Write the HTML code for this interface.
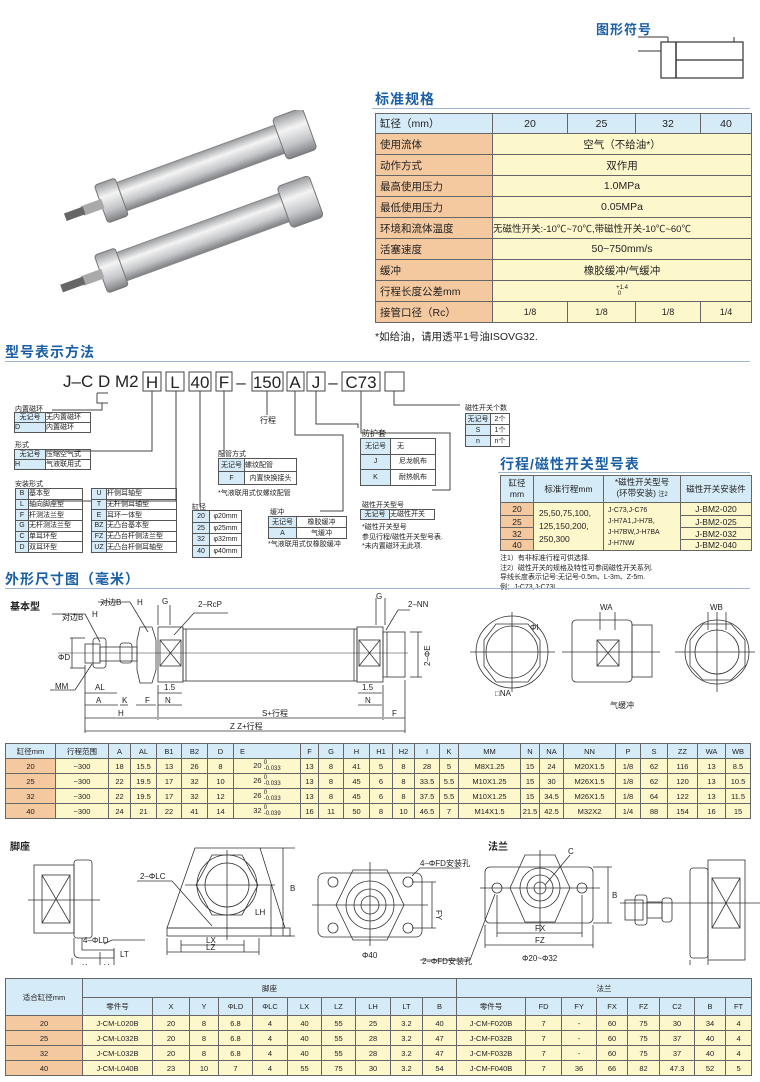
<!DOCTYPE html>
<html><head><meta charset="utf-8">
<style>
*{margin:0;padding:0;box-sizing:border-box}
body{width:760px;height:1082px;background:#fff;position:relative;overflow:hidden;font-family:"Liberation Sans","Noto Sans CJK SC",sans-serif;color:#222}
.a{position:absolute}
.ttl{position:absolute;font-weight:bold;color:#1b5fa6;font-size:14px;letter-spacing:1px}
.hl{position:absolute;height:1px;background:#9db7d3}
table{border-collapse:collapse;table-layout:fixed;position:absolute}
td{border:1px solid #666;text-align:center;vertical-align:middle;overflow:hidden;white-space:nowrap;padding:0}
.hb td{background:#d6ebf8}
.sa{background:#f5c9a0}
.y{background:#fdf8cc}
.hd{background:#d6ebf8}
.st td{font-size:10.5px}
.sm td{font-size:7px;border-color:#555;line-height:1}
.dt td{font-size:7.5px}
.bt td{font-size:7.5px}
.t7{font-size:7px;position:absolute;white-space:nowrap}
.fr{display:inline-block;vertical-align:middle;font-size:6px;line-height:6px;text-align:left}
</style></head><body>

<!-- symbol -->
<div class="ttl" style="left:596px;top:19px;font-size:13px">图形符号</div>
<svg class="a" style="left:636px;top:32px" width="115" height="56">
<rect x="25" y="10" width="82" height="36" fill="none" stroke="#333" stroke-width="1.2"/>
<line x1="40" y1="10" x2="40" y2="46" stroke="#333" stroke-width="1.5"/>
<line x1="40" y1="28" x2="107" y2="28" stroke="#333" stroke-width="1.2"/>
<line x1="2" y1="19" x2="25" y2="19" stroke="#333"/><line x1="32" y1="5" x2="32" y2="10" stroke="#333"/>
<line x1="98" y1="5" x2="98" y2="10" stroke="#333"/><line x1="2" y1="5" x2="32" y2="5" stroke="#333"/>
</svg>

<!-- photo -->
<svg class="a" style="left:35px;top:110px" width="320" height="205">
<defs><linearGradient id="g1" x1="0" y1="0" x2="0" y2="1"><stop offset="0" stop-color="#9a9c9f"/><stop offset=".35" stop-color="#f4f4f4"/><stop offset=".7" stop-color="#c4c6c9"/><stop offset="1" stop-color="#7d7f82"/></linearGradient></defs>
<g transform="rotate(-20 160 60)">
<rect x="70" y="45" width="200" height="30" rx="4" fill="url(#g1)" stroke="#888"/>
<rect x="250" y="38" width="32" height="44" rx="4" fill="url(#g1)" stroke="#777"/>
<rect x="60" y="40" width="22" height="40" rx="3" fill="url(#g1)" stroke="#777"/>
<rect x="40" y="55" width="22" height="10" fill="#aaa"/>
<rect x="22" y="56" width="20" height="8" fill="#666"/>
</g>
<g transform="rotate(-20 160 130) translate(0,70)">
<rect x="70" y="45" width="200" height="30" rx="4" fill="url(#g1)" stroke="#888"/>
<rect x="255" y="38" width="34" height="44" rx="4" fill="url(#g1)" stroke="#777"/>
<rect x="60" y="40" width="22" height="40" rx="3" fill="url(#g1)" stroke="#777"/>
<rect x="40" y="55" width="22" height="10" fill="#aaa"/>
<rect x="18" y="56" width="24" height="8" fill="#666"/>
</g>
</svg>

<!-- spec -->
<div class="ttl" style="left:375px;top:89px">标准规格</div>
<div class="hl" style="left:372px;top:108px;width:378px"></div>
<table class="st" style="left:375px;top:113px;width:376px">
<colgroup><col style="width:117px"><col style="width:75px"><col style="width:68px"><col style="width:65px"><col style="width:51px"></colgroup>
<tr class="hb" style="height:20px"><td style="text-align:left;padding-left:4px">缸径（mm）</td><td>20</td><td>25</td><td>32</td><td>40</td></tr>
<tr style="height:21px"><td class="sa" style="text-align:left;padding-left:4px">使用流体</td><td class="y" colspan="4">空气（不给油*）</td></tr>
<tr style="height:21px"><td class="sa" style="text-align:left;padding-left:4px">动作方式</td><td class="y" colspan="4">双作用</td></tr>
<tr style="height:21px"><td class="sa" style="text-align:left;padding-left:4px">最高使用压力</td><td class="y" colspan="4">1.0MPa</td></tr>
<tr style="height:21px"><td class="sa" style="text-align:left;padding-left:4px">最低使用压力</td><td class="y" colspan="4">0.05MPa</td></tr>
<tr style="height:21px"><td class="sa" style="text-align:left;padding-left:4px">环境和流体温度</td><td class="y" colspan="4" style="font-size:9.5px;text-align:left">无磁性开关:-10℃~70℃,带磁性开关-10℃~60℃</td></tr>
<tr style="height:21px"><td class="sa" style="text-align:left;padding-left:4px">活塞速度</td><td class="y" colspan="4">50~750mm/s</td></tr>
<tr style="height:21px"><td class="sa" style="text-align:left;padding-left:4px">缓冲</td><td class="y" colspan="4">橡胶缓冲/气缓冲</td></tr>
<tr style="height:21px"><td class="sa" style="text-align:left;padding-left:4px">行程长度公差mm</td><td class="y" colspan="4"><span class="fr">+1.4<br>&nbsp;0</span></td></tr>
<tr style="height:21px"><td class="sa" style="text-align:left;padding-left:4px">接管口径（Rc）</td><td class="y" style="font-size:9px">1/8</td><td class="y" style="font-size:9px">1/8</td><td class="y" style="font-size:9px">1/8</td><td class="y" style="font-size:9px">1/4</td></tr>
</table>
<div class="a" style="left:375px;top:329px;font-size:10.5px">*如给油，请用透平1号油ISOVG32.</div>

<!-- model code -->
<div class="ttl" style="left:5px;top:342px">型号表示方法</div>
<div class="hl" style="left:5px;top:361px;width:745px"></div>
<div class="a" style="left:63px;top:372px;font-size:17px;line-height:19px">J–C D M2</div>
<svg class="a" style="left:0;top:360px" width="520" height="200" fill="none" stroke="#444" stroke-width="1">
<rect x="143" y="12" width="18" height="19"/><rect x="166" y="12" width="18" height="19"/><rect x="189" y="12" width="22" height="19"/>
<rect x="216" y="12" width="16" height="19"/><rect x="252" y="12" width="31" height="19"/><rect x="287" y="12" width="17" height="19"/>
<rect x="307" y="12" width="18" height="19"/><rect x="342" y="12" width="38" height="19"/><rect x="385" y="12" width="19" height="19"/>
<g fill="#222" stroke="none" font-family="Liberation Sans" font-size="17" text-anchor="middle">
<text x="152" y="28">H</text><text x="175" y="28">L</text><text x="200" y="28">40</text><text x="224" y="28">F</text><text x="241" y="28">–</text>
<text x="267" y="28">150</text><text x="295" y="28">A</text><text x="316" y="28">J</text><text x="333" y="28">–</text><text x="361" y="28">C73</text>
</g>
<polyline points="97,33 97,43 108,43"/><line x1="108" y1="33" x2="97" y2="33"/>
<polyline points="102,43 102,50 52,50"/>
<polyline points="152,31 152,91 40,91"/>
<polyline points="176,31 176,141 52,141"/>
<polyline points="200,31 200,146"/>
<polyline points="224,31 224,96"/>
<polyline points="267,31 267,55"/>
<polyline points="295,31 295,75 343,75 343,151 320,151"/>
<polyline points="316,31 316,64 358,64 358,68"/>
<polyline points="361,31 361,73 450,73 450,130 432,130"/>
<polyline points="394,31 394,45 460,45"/>
</svg>
<div class="t7" style="left:260px;top:415px;font-size:8px">行程</div>
<div class="t7" style="left:15px;top:404px">内置磁环</div>
<table class="sm" style="left:14px;top:412px;width:77px"><colgroup><col style="width:31px"><col></colgroup>
<tr style="height:10px"><td class="hd">无记号</td><td style="text-align:left">无内置磁环</td></tr><tr style="height:10px"><td class="hd" style="text-align:left">D</td><td style="text-align:left">内置磁环</td></tr></table>
<div class="t7" style="left:15px;top:440px">形式</div>
<table class="sm" style="left:14px;top:449px;width:77px"><colgroup><col style="width:31px"><col></colgroup>
<tr style="height:10px"><td class="hd">无记号</td><td style="text-align:left">压缩空气式</td></tr><tr style="height:10px"><td class="hd" style="text-align:left">H</td><td style="text-align:left">气液联用式</td></tr></table>
<div class="t7" style="left:15px;top:479px">安装形式</div>
<table class="sm" style="left:15px;top:488px;width:68px"><colgroup><col style="width:13px"><col></colgroup>
<tr style="height:10.7px"><td class="hd">B</td><td style="text-align:left">基本型</td></tr><tr style="height:10.7px"><td class="hd">L</td><td style="text-align:left">轴向脚座型</td></tr><tr style="height:10.7px"><td class="hd">F</td><td style="text-align:left">杆测法兰型</td></tr><tr style="height:10.7px"><td class="hd">G</td><td style="text-align:left">无杆测法兰型</td></tr><tr style="height:10.7px"><td class="hd">C</td><td style="text-align:left">单耳环型</td></tr><tr style="height:10.7px"><td class="hd">D</td><td style="text-align:left">双耳环型</td></tr></table>
<table class="sm" style="left:91px;top:488px;width:86px"><colgroup><col style="width:15px"><col></colgroup>
<tr style="height:10.7px"><td class="hd">U</td><td style="text-align:left">杆侧耳轴型</td></tr><tr style="height:10.7px"><td class="hd">T</td><td style="text-align:left">无杆侧耳轴型</td></tr><tr style="height:10.7px"><td class="hd">E</td><td style="text-align:left">耳环一体型</td></tr><tr style="height:10.7px"><td class="hd">BZ</td><td style="text-align:left">无凸台基本型</td></tr><tr style="height:10.7px"><td class="hd">FZ</td><td style="text-align:left">无凸台杆侧法兰型</td></tr><tr style="height:10.7px"><td class="hd">UZ</td><td style="text-align:left">无凸台杆侧耳轴型</td></tr></table>
<div class="t7" style="left:218px;top:449px">配管方式</div>
<table class="sm" style="left:218px;top:458px;width:79px"><colgroup><col style="width:26px"><col></colgroup>
<tr style="height:13px"><td class="hd">无记号</td><td style="text-align:left">螺纹配管</td></tr><tr style="height:13px"><td class="hd">F</td><td>内置快换接头</td></tr></table>
<div class="t7" style="left:218px;top:488px">*气液联用式仅螺纹配管</div>
<div class="t7" style="left:192px;top:502px">缸径</div>
<table class="sm" style="left:192px;top:510px;width:50px"><colgroup><col style="width:17px"><col></colgroup>
<tr style="height:11.7px"><td class="hd">20</td><td>φ20mm</td></tr><tr style="height:11.7px"><td class="hd">25</td><td>φ25mm</td></tr><tr style="height:11.7px"><td class="hd">32</td><td>φ32mm</td></tr><tr style="height:11.7px"><td class="hd">40</td><td>φ40mm</td></tr></table>
<div class="t7" style="left:270px;top:507px">缓冲</div>
<table class="sm" style="left:268px;top:516px;width:79px"><colgroup><col style="width:28px"><col></colgroup>
<tr style="height:11px"><td class="hd">无记号</td><td>橡胶缓冲</td></tr><tr style="height:11px"><td class="hd">A</td><td>气缓冲</td></tr></table>
<div class="t7" style="left:268px;top:539px">*气液联用式仅橡胶缓冲</div>
<div class="t7" style="left:362px;top:428px;font-size:8px">防护套</div>
<table class="sm" style="left:360px;top:438px;width:76px"><colgroup><col style="width:30px"><col></colgroup>
<tr style="height:15.6px"><td class="hd">无记号</td><td style="text-align:left;padding-left:6px">无</td></tr><tr style="height:15.6px"><td class="hd">J</td><td>尼龙帆布</td></tr><tr style="height:15.6px"><td class="hd">K</td><td>耐热帆布</td></tr></table>
<div class="t7" style="left:362px;top:500px">磁性开关型号</div>
<table class="sm" style="left:360px;top:509px;width:75px"><colgroup><col style="width:29px"><col></colgroup>
<tr style="height:10px"><td class="hd">无记号</td><td style="text-align:left">无磁性开关</td></tr></table>
<div class="t7" style="left:362px;top:523px;line-height:9.5px">*磁性开关型号<br>参见行程/磁性开关型号表.<br>*未内置磁环无此项.</div>
<div class="t7" style="left:465px;top:403px">磁性开关个数</div>
<table class="sm" style="left:465px;top:413px;width:45px"><colgroup><col style="width:25px"><col></colgroup>
<tr style="height:11px"><td class="hd">无记号</td><td>2个</td></tr><tr style="height:11px"><td class="hd">S</td><td>1个</td></tr><tr style="height:11px"><td class="hd">n</td><td>n个</td></tr></table>

<!-- switch table -->
<div class="ttl" style="left:500px;top:454px">行程/磁性开关型号表</div>
<div class="hl" style="left:498px;top:472px;width:252px"></div>
<table style="left:500px;top:475px;width:252px;font-size:8.5px">
<colgroup><col style="width:33px"><col style="width:70px"><col style="width:77px"><col></colgroup>
<tr style="height:27px" class="hb"><td style="line-height:11px">缸径<br>mm</td><td>标准行程mm</td><td style="line-height:11px">*磁性开关型号<br>(环带安装) <span style="font-size:6px">注2</span></td><td>磁性开关安装件</td></tr>
<tr style="height:13px"><td class="sa">20</td><td class="y" rowspan="4" style="text-align:left;padding-left:5px;line-height:13px">25,50,75,100,<br>125,150,200,<br>250,300</td><td class="y" rowspan="4" style="font-size:7px;text-align:left;padding-left:4px;line-height:11px">J-C73,J-C76<br>J-H7A1,J-H7B,<br>J-H7BW,J-H7BA<br>J-H7NW</td><td class="y">J-BM2-020</td></tr>
<tr style="height:12px"><td class="sa">25</td><td class="y">J-BM2-025</td></tr>
<tr style="height:12px"><td class="sa">32</td><td class="y">J-BM2-032</td></tr>
<tr style="height:11px"><td class="sa">40</td><td class="y">J-BM2-040</td></tr>
</table>
<div class="t7" style="left:500px;top:554px;line-height:9.5px">注1）有非标准行程可供选择.<br>注2）磁性开关的规格及特性可参阅磁性开关系列.<br>导线长度表示记号:无记号-0.5m、L-3m、Z-5m.<br>例：J-C73,J-C73L.</div>

<!-- dimensions -->
<div class="ttl" style="left:5px;top:569px">外形尺寸图（毫米）</div>
<div class="hl" style="left:5px;top:588px;width:745px"></div>
<div class="a" style="left:10px;top:598px;font-size:10px;font-weight:bold">基本型</div>
<svg class="a" style="left:0;top:590px" width="760" height="150" font-family="Liberation Sans" font-size="8" fill="#222">
<g fill="none" stroke="#333" stroke-width=".8">
<line x1="58" y1="63" x2="408" y2="63" stroke-width=".5"/>
<rect x="85" y="54" width="15" height="19"/><rect x="93" y="48" width="13" height="30" rx="3"/>
<rect x="100" y="57" width="37" height="14"/><rect x="120" y="53" width="12" height="20" rx="3"/>
<polygon points="140,37 152,37 156,50 156,80 152,93 140,93 137,80 137,50"/>
<rect x="158" y="37" width="25" height="55"/><line x1="160" y1="50" x2="181" y2="76"/><line x1="181" y1="50" x2="160" y2="76"/><rect x="160" y="50" width="21" height="26"/>
<rect x="183" y="39" width="174" height="52"/><line x1="186" y1="39" x2="186" y2="91"/><line x1="354" y1="39" x2="354" y2="91"/>
<rect x="357" y="37" width="26" height="55"/><rect x="359" y="50" width="21" height="26"/><line x1="359" y1="50" x2="380" y2="76"/><line x1="380" y1="50" x2="359" y2="76"/>
<rect x="383" y="42" width="22" height="45"/><line x1="387" y1="42" x2="387" y2="87"/>
<line x1="85" y1="75" x2="85" y2="143"/><line x1="158" y1="95" x2="158" y2="130"/><line x1="383" y1="95" x2="383" y2="130"/><line x1="405" y1="90" x2="405" y2="143"/>
<line x1="85" y1="103" x2="117" y2="103"/><line x1="85" y1="115" x2="118" y2="115"/><line x1="120" y1="115" x2="128" y2="115"/><line x1="136" y1="115" x2="156" y2="115"/><line x1="158" y1="115" x2="182" y2="115"/>
<line x1="85" y1="128" x2="157" y2="128"/><line x1="159" y1="128" x2="382" y2="128"/><line x1="384" y1="128" x2="405" y2="128"/>
<line x1="85" y1="141" x2="405" y2="141"/><line x1="358" y1="115" x2="382" y2="115"/><line x1="358" y1="103" x2="382" y2="103"/><line x1="158" y1="103" x2="182" y2="103"/>
<line x1="70" y1="48" x2="85" y2="48"/><line x1="70" y1="78" x2="85" y2="78"/><line x1="72" y1="48" x2="72" y2="78"/>
<line x1="410" y1="42" x2="422" y2="42"/><line x1="410" y1="87" x2="422" y2="87"/><line x1="418" y1="42" x2="418" y2="87"/>
<line x1="50" y1="100" x2="75" y2="100"/><line x1="75" y1="100" x2="92" y2="74"/>
<polyline points="52,24 85,24 100,52"/><polyline points="98,12 130,12 148,42"/><polyline points="174,45 194,23 228,23"/><polyline points="386,40 398,20 410,20"/>
<line x1="158" y1="15" x2="158" y2="35"/><line x1="170" y1="15" x2="170" y2="35"/><line x1="376" y1="8" x2="376" y2="35"/><line x1="385" y1="8" x2="385" y2="35"/>
<circle cx="512" cy="62" r="36"/><circle cx="512" cy="62" r="26"/><polygon points="496,34 528,34 540,50 540,76 528,92 496,92 484,76 484,50"/>
<line x1="470" y1="62" x2="555" y2="62"/><line x1="512" y1="22" x2="512" y2="102"/>
<rect x="572" y="30" width="60" height="62" rx="4"/><rect x="597" y="50" width="22" height="26"/><line x1="597" y1="50" x2="619" y2="76"/><line x1="619" y1="50" x2="597" y2="76"/>
<rect x="632" y="35" width="20" height="52"/><line x1="562" y1="62" x2="660" y2="62"/>
<circle cx="717" cy="62" r="32"/><circle cx="717" cy="62" r="22"/><polygon points="703,34 731,34 745,50 745,76 731,90 703,90 690,76 690,50"/>
<line x1="675" y1="62" x2="755" y2="62"/><line x1="717" y1="22" x2="717" y2="102"/>
<line x1="600" y1="22" x2="600" y2="40"/><line x1="615" y1="22" x2="615" y2="40"/><line x1="708" y1="22" x2="708" y2="40"/><line x1="726" y1="22" x2="726" y2="40"/>
</g>
<text x="58" y="70">ΦD</text><text x="55" y="99">MM</text><text x="95" y="100">AL</text><text x="96" y="113">A</text><text x="122" y="113">K</text><text x="145" y="113">F</text><text x="165" y="113">N</text><text x="164" y="100">1.5</text>
<text x="118" y="126">H</text><text x="262" y="126">S+行程</text><text x="392" y="126">F</text><text x="365" y="113">N</text><text x="362" y="100">1.5</text><text x="230" y="139">Z Z+行程</text>
<text x="62" y="30">对边B</text><text x="92" y="27">H</text><text x="100" y="15">对边B</text><text x="137" y="15">H</text><text x="162" y="14">G</text><text x="198" y="17">2–RcP</text><text x="376" y="9">G</text><text x="408" y="17">2–NN</text>
<text x="430" y="76" transform="rotate(-90 430 76)">2–ΦE</text>
<text x="530" y="40">ΦI</text><text x="495" y="106">□NA</text><text x="600" y="20">WA</text><text x="710" y="20">WB</text><text x="610" y="118">气缓冲</text>
</svg>

<table class="dt" style="left:5px;top:743px;width:746px">
<colgroup><col style="width:50px"><col style="width:53px"><col style="width:22px"><col style="width:26px"><col style="width:25px"><col style="width:26px"><col style="width:26px"><col style="width:67px"><col style="width:18px"><col style="width:25px"><col style="width:26px"><col style="width:23px"><col style="width:22px"><col style="width:25px"><col style="width:19px"><col style="width:62px"><col style="width:19px"><col style="width:24px"><col style="width:52px"><col style="width:25px"><col style="width:27px"><col style="width:30px"><col style="width:28px"><col></colgroup>
<tr class="hb" style="height:15px"><td>缸径mm</td><td>行程范围</td><td>A</td><td>AL</td><td>B1</td><td>B2</td><td>D</td><td style="text-align:left;padding-left:6px">E</td><td>F</td><td>G</td><td>H</td><td>H1</td><td>H2</td><td>I</td><td>K</td><td>MM</td><td>N</td><td>NA</td><td>NN</td><td>P</td><td>S</td><td>ZZ</td><td>WA</td><td>WB</td></tr>
<tr class="y" style="height:15px"><td class="sa">20</td><td>~300</td><td>18</td><td>15.5</td><td>13</td><td>26</td><td>8</td><td>20 <span class="fr">0<br>-0.033</span></td><td>13</td><td>8</td><td>41</td><td>5</td><td>8</td><td>28</td><td>5</td><td>M8X1.25</td><td>15</td><td>24</td><td>M20X1.5</td><td>1/8</td><td>62</td><td>116</td><td>13</td><td>8.5</td></tr>
<tr class="y" style="height:15px"><td class="sa">25</td><td>~300</td><td>22</td><td>19.5</td><td>17</td><td>32</td><td>10</td><td>26 <span class="fr">0<br>-0.033</span></td><td>13</td><td>8</td><td>45</td><td>6</td><td>8</td><td>33.5</td><td>5.5</td><td>M10X1.25</td><td>15</td><td>30</td><td>M26X1.5</td><td>1/8</td><td>62</td><td>120</td><td>13</td><td>10.5</td></tr>
<tr class="y" style="height:15px"><td class="sa">32</td><td>~300</td><td>22</td><td>19.5</td><td>17</td><td>32</td><td>12</td><td>26 <span class="fr">0<br>-0.033</span></td><td>13</td><td>8</td><td>45</td><td>6</td><td>8</td><td>37.5</td><td>5.5</td><td>M10X1.25</td><td>15</td><td>34.5</td><td>M26X1.5</td><td>1/8</td><td>64</td><td>122</td><td>13</td><td>11.5</td></tr>
<tr class="y" style="height:15px"><td class="sa">40</td><td>~300</td><td>24</td><td>21</td><td>22</td><td>41</td><td>14</td><td>32 <span class="fr">0<br>-0.039</span></td><td>16</td><td>11</td><td>50</td><td>8</td><td>10</td><td>46.5</td><td>7</td><td>M14X1.5</td><td>21.5</td><td>42.5</td><td>M32X2</td><td>1/4</td><td>88</td><td>154</td><td>16</td><td>15</td></tr>
</table>

<!-- bottom drawings -->
<div class="a" style="left:10px;top:838px;font-size:10px;font-weight:bold">脚座</div>
<div class="a" style="left:488px;top:838px;font-size:10px;font-weight:bold">法兰</div>
<svg class="a" style="left:0;top:840px" width="760" height="125" font-family="Liberation Sans" font-size="8" fill="#222">
<g fill="none" stroke="#333" stroke-width=".8">
<rect x="34" y="25" width="40" height="68"/><rect x="42" y="35" width="28" height="48"/><line x1="42" y1="35" x2="70" y2="83"/><line x1="70" y1="35" x2="42" y2="83"/>
<rect x="74" y="20" width="18" height="78" rx="3"/><path d="M74 98 L74 112 Q74 118 80 118 L114 118 L114 110 L82 110 L82 98"/>
<line x1="28" y1="60" x2="100" y2="60"/><line x1="72" y1="134" x2="120" y2="134"/><line x1="72" y1="118" x2="72" y2="138"/><line x1="100" y1="112" x2="100" y2="138"/><line x1="114" y1="108" x2="114" y2="138"/>
<polyline points="104,104 112,100 145,100"/>
<polygon points="195,8 260,8 285,88 167,88"/><rect x="167" y="88" width="123" height="8"/>
<circle cx="227" cy="45" r="30"/><circle cx="227" cy="45" r="22"/><polygon points="212,15 242,15 258,45 242,75 212,75 196,45"/>
<line x1="185" y1="45" x2="275" y2="45"/><line x1="227" y1="10" x2="227" y2="100"/>
<line x1="260" y1="8" x2="295" y2="8"/><line x1="285" y1="96" x2="295" y2="96"/><line x1="283" y1="8" x2="283" y2="96"/><line x1="271" y1="45" x2="271" y2="96"/>
<line x1="181" y1="100" x2="181" y2="112"/><line x1="244" y1="100" x2="244" y2="112"/><line x1="181" y1="105" x2="244" y2="105"/><line x1="167" y1="98" x2="167" y2="115"/><line x1="259" y1="98" x2="259" y2="115"/><line x1="167" y1="112" x2="259" y2="112"/>
<polyline points="137,41 172,41 212,86"/>
<rect x="318" y="33" width="104" height="64" rx="6"/><polygon points="353,30 387,30 404,65 387,100 353,100 336,65"/><circle cx="370" cy="65" r="24"/><circle cx="370" cy="65" r="16"/><circle cx="370" cy="65" r="9"/>
<circle cx="333" cy="42" r="5"/><circle cx="408" cy="42" r="5"/><circle cx="333" cy="88" r="5"/><circle cx="408" cy="88" r="5"/>
<line x1="312" y1="65" x2="428" y2="65"/><line x1="370" y1="22" x2="370" y2="106"/><line x1="412" y1="42" x2="436" y2="42"/><line x1="412" y1="88" x2="436" y2="88"/><line x1="432" y1="42" x2="432" y2="88"/>
<polyline points="412,36 420,28 460,28"/>
<rect x="485" y="27" width="108" height="56" rx="5"/><polygon points="525,15 555,15 570,48 555,82 525,82 510,48"/><circle cx="540" cy="48" r="20"/><circle cx="540" cy="48" r="13"/><circle cx="540" cy="48" r="6"/>
<circle cx="497" cy="48" r="5"/><circle cx="582" cy="48" r="5"/><line x1="480" y1="48" x2="600" y2="48"/><line x1="540" y1="10" x2="540" y2="92"/>
<line x1="593" y1="27" x2="612" y2="27"/><line x1="593" y1="83" x2="612" y2="83"/><line x1="608" y1="27" x2="608" y2="83"/>
<line x1="497" y1="93" x2="582" y2="93"/><line x1="485" y1="105" x2="593" y2="105"/><line x1="497" y1="55" x2="497" y2="97"/><line x1="582" y1="55" x2="582" y2="97"/><line x1="485" y1="85" x2="485" y2="108"/><line x1="593" y1="85" x2="593" y2="108"/>
<polyline points="420,120 470,120 495,54"/><polyline points="545,45 570,15"/>
<rect x="625" y="60" width="18" height="20"/><rect x="635" y="55" width="12" height="30" rx="3"/><rect x="647" y="62" width="15" height="16"/><rect x="662" y="58" width="10" height="24" rx="3"/>
<rect x="690" y="28" width="18" height="90" rx="3"/><rect x="708" y="20" width="37" height="100"/><rect x="712" y="38" width="28" height="50"/><line x1="712" y1="38" x2="740" y2="88"/><line x1="740" y1="38" x2="712" y2="88"/>
<line x1="620" y1="63" x2="760" y2="63"/><line x1="690" y1="120" x2="690" y2="138"/><line x1="708" y1="120" x2="708" y2="138"/><line x1="680" y1="132" x2="720" y2="132"/>
</g>
<text x="83" y="103">4–ΦLD</text><text x="120" y="117">LT</text><text x="82" y="130">X</text><text x="104" y="130">Y</text>
<text x="140" y="39">2–ΦLC</text><text x="290" y="51">B</text><text x="255" y="75">LH</text><text x="206" y="103">LX</text><text x="206" y="110">LZ</text>
<text x="420" y="26">4–ΦFD安装孔</text><text x="436" y="70" transform="rotate(90 436 70)">FY</text><text x="362" y="118">Φ40</text>
<text x="422" y="124">2–ΦFD安装孔</text><text x="568" y="14">C</text><text x="612" y="58">B</text><text x="535" y="91">FX</text><text x="535" y="103">FZ</text><text x="522" y="121">Φ20~Φ32</text><text x="713" y="133">FT</text>
</svg>

<table class="bt" style="left:5px;top:978px;width:747px">
<colgroup><col style="width:77px"><col style="width:70px"><col style="width:37px"><col style="width:29px"><col style="width:34px"><col style="width:35px"><col style="width:34px"><col style="width:34px"><col style="width:35px"><col style="width:32px"><col style="width:34px"><col style="width:69px"><col style="width:36px"><col style="width:35px"><col style="width:31px"><col style="width:32px"><col style="width:35px"><col style="width:31px"><col></colgroup>
<tr class="hb" style="height:19px"><td rowspan="2">适合缸径mm</td><td colspan="10">脚座</td><td colspan="8">法兰</td></tr>
<tr class="hb" style="height:18px"><td>零件号</td><td>X</td><td>Y</td><td>ΦLD</td><td>ΦLC</td><td>LX</td><td>LZ</td><td>LH</td><td>LT</td><td>B</td><td>零件号</td><td>FD</td><td>FY</td><td>FX</td><td>FZ</td><td>C2</td><td>B</td><td>FT</td></tr>
<tr class="y" style="height:15px"><td class="sa">20</td><td>J-CM-L020B</td><td>20</td><td>8</td><td>6.8</td><td>4</td><td>40</td><td>55</td><td>25</td><td>3.2</td><td>40</td><td>J-CM-F020B</td><td>7</td><td>-</td><td>60</td><td>75</td><td>30</td><td>34</td><td>4</td></tr>
<tr class="y" style="height:15px"><td class="sa">25</td><td>J-CM-L032B</td><td>20</td><td>8</td><td>6.8</td><td>4</td><td>40</td><td>55</td><td>28</td><td>3.2</td><td>47</td><td>J-CM-F032B</td><td>7</td><td>-</td><td>60</td><td>75</td><td>37</td><td>40</td><td>4</td></tr>
<tr class="y" style="height:15px"><td class="sa">32</td><td>J-CM-L032B</td><td>20</td><td>8</td><td>6.8</td><td>4</td><td>40</td><td>55</td><td>28</td><td>3.2</td><td>47</td><td>J-CM-F032B</td><td>7</td><td>-</td><td>60</td><td>75</td><td>37</td><td>40</td><td>4</td></tr>
<tr class="y" style="height:15px"><td class="sa">40</td><td>J-CM-L040B</td><td>23</td><td>10</td><td>7</td><td>4</td><td>55</td><td>75</td><td>30</td><td>3.2</td><td>54</td><td>J-CM-F040B</td><td>7</td><td>36</td><td>66</td><td>82</td><td>47.3</td><td>52</td><td>5</td></tr>
</table>
</body></html>
